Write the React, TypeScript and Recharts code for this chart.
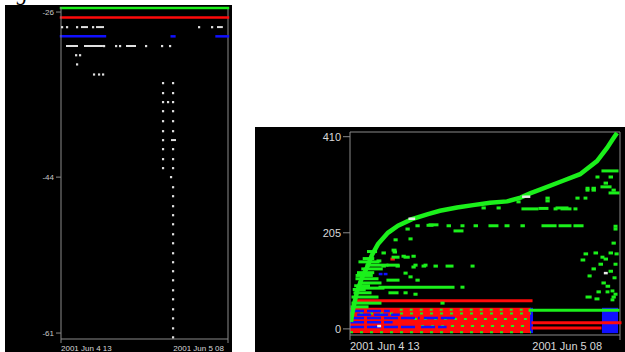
import { ComposedChart, XAxis, YAxis, Scatter, Line, ReferenceLine, ReferenceArea } from 'recharts'

// x is hours since 2001 Jun 4 13:00
const xTicks = [0, 19]
const xTickLabels = ['2001 Jun 4 13', '2001 Jun 5 08']
const leftYTicks = [-26, -44, -61]
const rightYTicks = [0, 205, 410]

// ---- left panel ----
// [start hour, end hour, value]
const leftGreen = [[0, 19, -25.55]]
const leftRed = [[0, 19, -26.6]]
const leftBlue = [[0, 5, -28.65], [12.6, 12.9, -28.65], [17.7, 19, -28.65]]
const leftDashes = [
  [2.39, 2.96, -27.64], [4.1, 4.78, -27.64], [17.86, 18.3, -27.64],
  [0.68, 1.82, -29.7], [2.73, 4.66, -29.7], [7.51, 8.42, -29.7],
  [12.63, 12.97, -39.96],
]
const leftDots = [
  { h: 0.11, v: -27.64 }, { h: 0.68, v: -27.64 }, { h: 1.82, v: -27.64 }, { h: 3.64, v: -27.64 },
  { h: 15.7, v: -27.64 }, { h: 17.18, v: -27.64 },
  { h: 4.89, v: -29.7 }, { h: 6.26, v: -29.7 }, { h: 6.71, v: -29.7 }, { h: 9.67, v: -29.7 },
  { h: 11.49, v: -29.7 }, { h: 12.4, v: -29.7 },
  { h: 1.71, v: -30.7 }, { h: 2.16, v: -30.7 }, { h: 1.82, v: -31.7 },
  { h: 3.75, v: -32.8 }, { h: 4.32, v: -32.8 }, { h: 4.78, v: -32.8 },
  { h: 11.6, v: -33.74 }, { h: 11.6, v: -34.83 }, { h: 11.6, v: -35.81 }, { h: 11.6, v: -36.8 },
  { h: 11.6, v: -37.89 }, { h: 11.6, v: -38.98 }, { h: 11.6, v: -39.96 }, { h: 11.6, v: -40.94 },
  { h: 11.6, v: -42.03 }, { h: 11.6, v: -43.01 }, { h: 12.17, v: -35.81 },
  { h: 12.74, v: -33.74 }, { h: 12.74, v: -34.83 }, { h: 12.74, v: -35.81 }, { h: 12.74, v: -36.8 },
  { h: 12.74, v: -37.89 }, { h: 12.74, v: -38.98 }, { h: 12.74, v: -40.94 }, { h: 12.74, v: -42.03 },
  { h: 12.74, v: -43.01 }, { h: 12.51, v: -43.99 }, { h: 12.74, v: -45.09 }, { h: 12.74, v: -46.07 },
  { h: 12.74, v: -47.16 }, { h: 12.74, v: -48.14 }, { h: 12.74, v: -49.13 }, { h: 12.74, v: -50.22 },
  { h: 12.74, v: -51.2 }, { h: 12.74, v: -52.29 }, { h: 12.74, v: -53.27 }, { h: 12.74, v: -54.25 },
  { h: 12.74, v: -55.24 }, { h: 12.74, v: -56.33 }, { h: 12.74, v: -57.31 }, { h: 12.74, v: -58.4 },
  { h: 12.74, v: -59.39 }, { h: 12.74, v: -60.48 }, { h: 12.74, v: -61.46 },
]

// ---- right panel ----
const rightCurve = [
  { h: 0.07, v: 15 }, { h: 0.14, v: 30 }, { h: 0.28, v: 51 }, { h: 0.49, v: 79 }, { h: 0.84, v: 109 },
  { h: 1.27, v: 136 }, { h: 1.55, v: 158 }, { h: 1.97, v: 181 }, { h: 2.67, v: 205 }, { h: 3.38, v: 220 },
  { h: 4.36, v: 234 }, { h: 5.49, v: 245 }, { h: 6.33, v: 252 }, { h: 7.53, v: 259 }, { h: 8.66, v: 264 },
  { h: 9.85, v: 269 }, { h: 11.05, v: 272 }, { h: 12.0, v: 280 }, { h: 12.67, v: 289 }, { h: 13.37, v: 297 },
  { h: 14.99, v: 316 }, { h: 16.19, v: 330 }, { h: 17.38, v: 358 }, { h: 18.09, v: 386 }, { h: 18.5, v: 405 },
  { h: 18.79, v: 418 },
]
const rightGreenSegs = [
  // dense wedge near the start
  [0.7, 1.97, 143], [1.2, 2.6, 136], [0.9, 2.2, 128], [0.6, 1.6, 120], [0.49, 1.9, 107], [0.7, 2.11, 98],
  [0.4, 1.3, 92], [0.7, 2.32, 87], [0.35, 1.41, 77], [0.21, 1.9, 68], [0.21, 2.11, 55], [0.14, 1.2, 47],
  [1.0, 1.6, 150], [1.3, 1.8, 165], [0.3, 1.0, 84], [0.5, 1.5, 114],
  [2.11, 7.25, 89], [2.67, 3.38, 104], [3.03, 3.38, 153], [3.03, 3.17, 168], [3.73, 3.82, 155], [4.43, 4.52, 155],
  [2.32, 2.42, 134], [3.31, 3.4, 134], [4.43, 4.52, 132], [5.14, 5.25, 134], [5.98, 6.08, 134],
  [3.87, 3.95, 119], [4.22, 4.3, 111], [4.71, 4.8, 104], [2.81, 3.31, 77], [3.87, 3.95, 77], [4.57, 4.65, 74],
  [4.71, 4.8, 220], [5.49, 5.77, 221], [4.01, 4.1, 213], [4.22, 4.3, 192], [3.17, 3.25, 190],
  [2.32, 2.42, 162], [3.1, 3.2, 164], [3.87, 4.1, 153], [1.97, 2.1, 145], [2.67, 3.38, 136],
  [4.57, 4.65, 136], [5.28, 5.35, 136], [6.83, 7.18, 134], [8.59, 8.66, 134],
  [7.88, 7.95, 89], [6.47, 6.55, 55],
  // mid band below the curve
  [5.63, 6.12, 222], [6.9, 7.0, 220], [7.88, 7.95, 220], [8.8, 8.9, 220], [9.85, 10.34, 220],
  [10.98, 11.12, 220], [12.1, 12.2, 220], [13.58, 14.43, 220], [14.78, 15.48, 220], [15.83, 16.33, 220],
  [7.39, 7.88, 209],
  [9.36, 9.45, 258], [10.42, 10.5, 258], [12.17, 13.16, 256], [13.37, 13.86, 257], [14.43, 14.5, 256],
  [14.92, 15.48, 256], [15.83, 15.9, 256], [14.57, 15.27, 258], [11.82, 11.9, 271],
  [13.86, 13.95, 279], [15.97, 16.05, 279], [16.54, 16.6, 279], [13.86, 13.95, 273],
  [16.68, 16.75, 300], [17.1, 17.2, 300], [17.73, 18.3, 303], [18.3, 18.86, 290],
  [17.8, 18.79, 337], [17.38, 17.45, 324], [18.3, 18.4, 324], [17.95, 18.05, 311], [18.51, 18.6, 296],
  [16.68, 16.75, 296], [17.1, 17.2, 296], [18.65, 18.72, 219], [18.65, 18.72, 213],
  // scatter at the right end
  [18.51, 18.6, 183], [16.54, 16.65, 160], [17.24, 17.35, 162], [17.73, 17.8, 153], [18.3, 18.4, 162],
  [18.72, 18.8, 160], [16.33, 16.45, 147], [17.95, 18.05, 149], [17.59, 17.7, 138], [18.65, 18.72, 138],
  [17.1, 17.2, 128], [18.3, 18.4, 123], [16.82, 16.9, 113], [18.58, 18.65, 109], [17.8, 17.9, 98],
  [18.09, 18.2, 91], [17.45, 17.55, 79], [18.09, 18.15, 79], [18.44, 18.5, 81], [18.65, 18.72, 74],
  [16.68, 16.9, 68], [17.31, 17.45, 64], [18.51, 18.6, 68], [18.44, 18.5, 62],
]
const rightWhiteSegs = [[4.2, 4.5, 235], [12.2, 12.6, 282], [17.95, 18.05, 119], [2.0, 2.1, 6]]
const rightRedSegs = [[0.35, 12.74, 60], [12.88, 19, 13], [12.88, 17.59, 2], [2.95, 3.05, 149]]
const rightGreenLines = [[12.67, 18.86, 40]]
const rightBlueSegs = [
  [0, 4.9, 23], [0, 4.6, 4], [0, 2.8, 38], [0.5, 3.5, 30], [0, 3, 14], [5.2, 7.5, 23], [5.0, 6.8, 4],
  [2.11, 2.2, 117], [2.46, 2.55, 117],
]
const rightNoiseRows = [[0, 12.74, -7], [3.5, 12.74, 41], [4.5, 12.74, 21], [5, 12.74, 6], [0, 12.74, 33]]
// [x1, x2, y1, y2]
const rightRedBlock = [0, 12.74, -9, 45]
const rightBlueBlocks = [[12.67, 12.88, -9, 45], [17.73, 18.86, -9, 45]]

const FONT = '"Liberation Sans", Arial, sans-serif'
const AXIS = '#8a8a8a'
const LABEL = '#d8d8d8'
const GREEN = '#1bf01b'
const RED = '#ff0a0a'
const BLUE = '#1010ff'

function makeXTick(fontSize: number, endShift: number) {
  return (props: any) => {
    const { x, y, payload } = props
    const i = xTicks.indexOf(payload.value)
    const first = i === 0
    return (
      <text x={first ? x : x + endShift} y={y} dy="0.71em" textAnchor={first ? 'start' : 'end'}
        fill={LABEL} fontSize={fontSize} fontFamily={FONT}>
        {xTickLabels[i]}
      </text>
    )
  }
}

const seg = (s: number[], color: string, w: number, k: string, dash?: string) => (
  <ReferenceLine key={k} segment={[{ x: s[0], y: s[2] }, { x: s[1], y: s[2] }]} stroke={color}
    strokeWidth={w} strokeDasharray={dash} strokeLinecap={dash ? 'butt' : 'square'} ifOverflow="visible" />
)

function LeftPanel() {
  return (
    <div style={{ position: 'absolute', left: 5, top: 5, width: 227, height: 347, background: '#000' }}>
      <ComposedChart width={227} height={347} margin={{ top: 2, right: 4, left: 0, bottom: 0 }}>
        <XAxis type="number" dataKey="h" domain={[0, 19]} ticks={xTicks} height={13} tickSize={4}
          stroke={AXIS} tick={makeXTick(8, 0)} allowDataOverflow />
        <YAxis type="number" dataKey="v" domain={[-61.65, -25.45]} ticks={leftYTicks} width={56} tickSize={5}
          tickMargin={2} stroke={AXIS} allowDataOverflow
          tick={{ fill: '#c8c8c8', fontSize: 8, fontFamily: FONT }} />
        <ReferenceLine x={19} stroke={AXIS} />
        {leftGreen.map((s, i) => seg(s, GREEN, 2.5, 'g' + i))}
        {leftRed.map((s, i) => seg(s, RED, 2.5, 'r' + i))}
        {leftBlue.map((s, i) => seg(s, BLUE, 2.5, 'b' + i))}
        {leftDashes.map((s, i) => seg(s, '#e0e0e0', 2, 'w' + i))}
        <Scatter data={leftDots} dataKey="v" isAnimationActive={false}
          shape={(p: any) => <rect x={p.cx - 1} y={p.cy - 1} width={2.2} height={2.2} fill="#e0e0e0" />} />
      </ComposedChart>
    </div>
  )
}

function RightPanel() {
  return (
    <div style={{ position: 'absolute', left: 255, top: 127, width: 370, height: 225, background: '#000' }}>
      <ComposedChart width={370} height={225} margin={{ top: 5, right: 5, left: 0, bottom: 0 }}>
        <XAxis type="number" dataKey="h" domain={[0, 19]} ticks={xTicks} height={17} tickSize={5}
          stroke={AXIS} tick={makeXTick(11, -15)} allowDataOverflow />
        <YAxis type="number" dataKey="v" domain={[-13, 420]} ticks={rightYTicks} width={95} tickSize={7}
          tickMargin={2} stroke={AXIS} allowDataOverflow
          tick={{ fill: LABEL, fontSize: 11, fontFamily: FONT }} />
        <ReferenceLine x={19} stroke={AXIS} />
        <ReferenceLine y={420} stroke={AXIS} />
        <ReferenceArea x1={rightRedBlock[0]} x2={rightRedBlock[1]} y1={rightRedBlock[2]} y2={rightRedBlock[3]}
          fill={RED} fillOpacity={1} stroke="none" ifOverflow="visible" />
        {rightBlueBlocks.map((b, i) => (
          <ReferenceArea key={'bb' + i} x1={b[0]} x2={b[1]} y1={b[2]} y2={b[3]} fill={BLUE} fillOpacity={1}
            stroke="none" ifOverflow="visible" />
        ))}
        {rightNoiseRows.map((s, i) => seg(s, GREEN, 2, 'n' + i, '3 7'))}
        {rightBlueSegs.map((s, i) => seg(s, BLUE, 2.5, 'rb' + i, i < 7 ? '14 3' : undefined))}
        {rightRedSegs.map((s, i) => seg(s, RED, 3, 'rr' + i))}
        {rightGreenLines.map((s, i) => seg(s, GREEN, 3, 'gl' + i))}
        {rightGreenSegs.map((s, i) => seg(s, GREEN, 3, 'gs' + i))}
        <Line data={rightCurve} dataKey="v" stroke={GREEN} strokeWidth={4.5} dot={false} isAnimationActive={false} />
        {rightWhiteSegs.map((s, i) => seg(s, '#e8e8e8', 2.5, 'ws' + i))}
      </ComposedChart>
    </div>
  )
}

export default function App() {
  return (
    <div style={{ position: 'fixed', left: 0, top: 0, width: 625, height: 352, background: '#fff', overflow: 'hidden' }}>
      <div style={{ position: 'absolute', left: 2, top: -18, fontFamily: '"Liberation Serif", serif', fontSize: 22, lineHeight: '22px', fontStyle: 'italic' }}>
        signature.
      </div>
      <LeftPanel />
      <RightPanel />
    </div>
  )
}
